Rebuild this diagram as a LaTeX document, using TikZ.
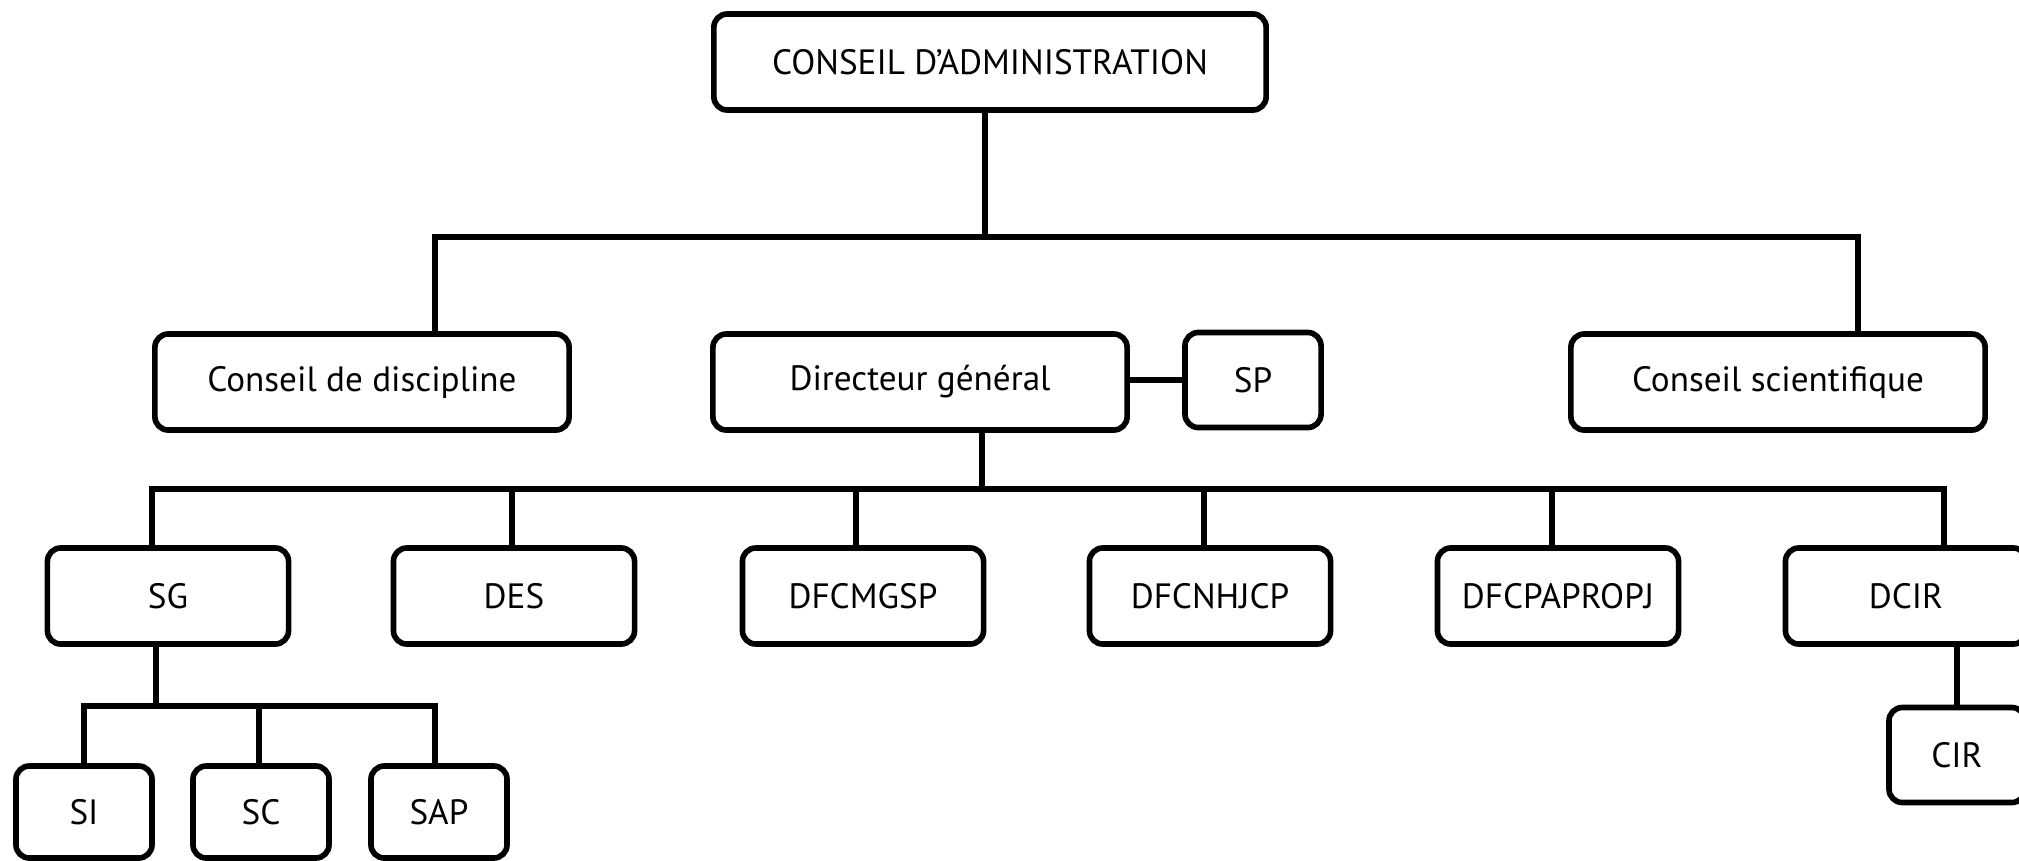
\documentclass[tikz,border=0pt]{standalone}
\usepackage{fontspec}
\setmainfont{PT Sans}
\begin{document}
\begin{tikzpicture}[x=0.01cm,y=-0.01cm,
  box/.style={draw, line width=1.6pt, rounded corners=3.8pt, inner sep=0pt, align=center, font=\fontsize{10}{12}\selectfont},
  wbox/.style={box, minimum width=4.14cm, minimum height=0.96cm},
  mbox/.style={box, minimum width=2.41cm, minimum height=0.96cm},
  sbox/.style={box, minimum width=1.36cm, minimum height=0.95cm},
  conn/.style={line width=1.7pt}]
\useasboundingbox (0,0) rectangle (2019,860);
% nodes
\node[box, minimum width=5.52cm, minimum height=0.96cm] (CA) at (990,62) {CONSEIL D’ADMINISTRATION};
\node[wbox] (CD) at (362,382) {Conseil de discipline};
\node[wbox] (DG) at (920,382) {Directeur général};
\node[sbox] (SP) at (1253,380) {SP};
\node[wbox] (CS) at (1778,382) {Conseil scientifique};
\node[mbox] (SG) at (168,596) {SG};
\node[mbox] (DES) at (514,596) {DES};
\node[mbox] (DFCMGSP) at (863,596) {DFCMGSP};
\node[mbox] (DFCNHJCP) at (1210,596) {DFCNHJCP};
\node[mbox] (DFCPAPROPJ) at (1558,596) {DFCPAPROPJ};
\node[mbox] (DCIR) at (1906,596) {DCIR};
\node[sbox, minimum height=0.92cm] (SI) at (84,812) {SI};
\node[sbox, minimum height=0.92cm] (SC) at (261,812) {SC};
\node[sbox, minimum height=0.92cm] (SAP) at (439,812) {SAP};
\node[sbox] (CIR) at (1957,755) {CIR};
% junction points
\coordinate (pCA) at (985,237);
\coordinate (pCD) at (435,237);
\coordinate (pCS) at (1858,237);
\coordinate (pDG) at (982,489);
\coordinate (q1) at (152,489);
\coordinate (q2) at (512,489);
\coordinate (q3) at (856,489);
\coordinate (q4) at (1204,489);
\coordinate (q5) at (1552,489);
\coordinate (q6) at (1944,489);
\coordinate (r0) at (156,706);
\coordinate (r1) at (84,706);
\coordinate (r2) at (259,706);
\coordinate (r3) at (435,706);
% connectors
\draw[conn] (CA.south -| pCA) -- (pCA);
\draw[conn] (CD.north -| pCD) -- (pCD) -- (pCS) -- (CS.north -| pCS);
\draw[conn] (SP.west -| DG.east) -- (SP.west);
\draw[conn] (DG.south -| pDG) -- (pDG);
\draw[conn] (SG.north -| q1) -- (q1) -- (q6) -- (DCIR.north -| q6);
\draw[conn] (DES.north -| q2) -- (q2);
\draw[conn] (DFCMGSP.north -| q3) -- (q3);
\draw[conn] (DFCNHJCP.north -| q4) -- (q4);
\draw[conn] (DFCPAPROPJ.north -| q5) -- (q5);
\draw[conn] (SG.south -| r0) -- (r0);
\draw[conn] (SI.north -| r1) -- (r1) -- (r3) -- (SAP.north -| r3);
\draw[conn] (SC.north -| r2) -- (r2);
\draw[conn] (DCIR.south -| CIR.north) -- (CIR.north);
\end{tikzpicture}
\end{document}
